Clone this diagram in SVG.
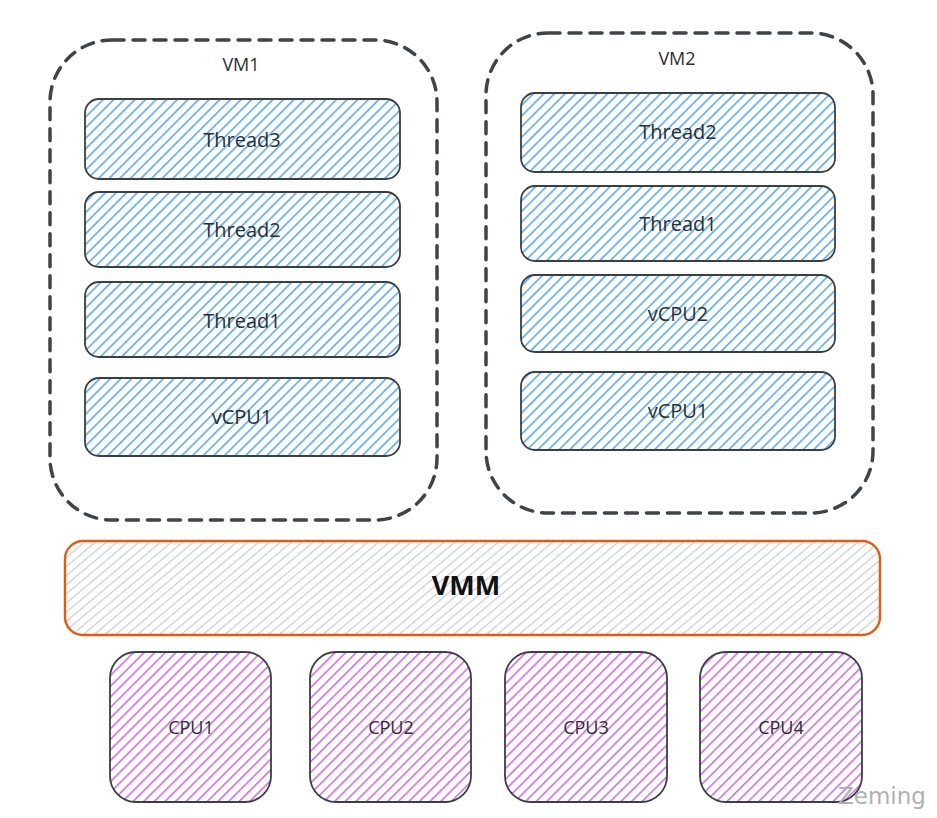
<svg xmlns="http://www.w3.org/2000/svg" width="937" height="818" viewBox="0 0 937 818">
<defs>
<pattern id="hb" patternUnits="userSpaceOnUse" width="7.5" height="7.5" patternTransform="rotate(45)"><rect x="0" y="0" width="1.6" height="7.5" fill="#5aaaf0"/></pattern>
<pattern id="hp" patternUnits="userSpaceOnUse" width="7.5" height="7.5" patternTransform="rotate(45)"><rect x="0" y="0" width="1.6" height="7.5" fill="#d06ee6"/></pattern>
<pattern id="hg" patternUnits="userSpaceOnUse" width="7" height="7" patternTransform="rotate(50)"><rect x="0" y="0" width="1.2" height="7" fill="#c5ccd3"/></pattern>
</defs>
<style>
.vm{fill:none;stroke:#3f4449;stroke-width:3.5;stroke-dasharray:12 9;stroke-linecap:round}
.th{fill:url(#hb);stroke:#3a3f44;stroke-width:1.8}
.cpu{fill:url(#hp);stroke:#3a3f44;stroke-width:1.8}
.vmm{fill:url(#hg);stroke:#e8590c;stroke-width:2.4}
text{font-family:"Open Sans","Liberation Sans",sans-serif;fill:#2b2f33;text-anchor:middle;dominant-baseline:central}
.lb{font-size:20px}
.sm{font-size:18px}
</style>
<rect width="937" height="818" fill="#ffffff"/>
<g id="vm1"><rect class="vm" x="50" y="40" width="387" height="480" rx="62"/><text class="sm" x="241" y="64">VM1</text></g>
<g id="vm1-thread3"><rect class="th" x="85" y="99" width="315" height="80" rx="14"/><text class="lb" x="242" y="139">Thread3</text></g>
<g id="vm1-thread2"><rect class="th" x="85" y="192" width="315" height="75" rx="14"/><text class="lb" x="242" y="229">Thread2</text></g>
<g id="vm1-thread1"><rect class="th" x="85" y="282" width="315" height="75" rx="14"/><text class="lb" x="242" y="320">Thread1</text></g>
<g id="vm1-vcpu1"><rect class="th" x="85" y="378" width="315" height="78" rx="14"/><text class="lb" x="242" y="416">vCPU1</text></g>
<g id="vm2"><rect class="vm" x="486" y="33" width="387" height="480" rx="62"/><text class="sm" x="677" y="58">VM2</text></g>
<g id="vm2-thread2"><rect class="th" x="521" y="93" width="314" height="79" rx="14"/><text class="lb" x="678" y="131">Thread2</text></g>
<g id="vm2-thread1"><rect class="th" x="521" y="186" width="314" height="75" rx="14"/><text class="lb" x="678" y="223">Thread1</text></g>
<g id="vm2-vcpu2"><rect class="th" x="521" y="275" width="314" height="77" rx="14"/><text class="lb" x="678" y="313">vCPU2</text></g>
<g id="vm2-vcpu1"><rect class="th" x="521" y="372" width="314" height="78" rx="14"/><text class="lb" x="678" y="410">vCPU1</text></g>
<g id="vmm"><rect class="vmm" x="65" y="541" width="815" height="94" rx="18"/><text x="466" y="584" style="font-size:27px;font-weight:bold;fill:#111">VMM</text></g>
<g id="cpu1"><rect class="cpu" x="110" y="652" width="161" height="150" rx="26"/><text class="sm" x="191" y="727">CPU1</text></g>
<g id="cpu2"><rect class="cpu" x="310" y="652" width="161" height="150" rx="26"/><text class="sm" x="391" y="727">CPU2</text></g>
<g id="cpu3"><rect class="cpu" x="505" y="652" width="162" height="150" rx="26"/><text class="sm" x="586" y="727">CPU3</text></g>
<g id="cpu4"><rect class="cpu" x="700" y="652" width="162" height="150" rx="26"/><text class="sm" x="781" y="727">CPU4</text></g>
<g id="connectors"></g>
<text x="882" y="796" style="font-size:23px;fill:#b0b0b0;font-family:'DejaVu Sans',sans-serif">Zeming</text>
</svg>
